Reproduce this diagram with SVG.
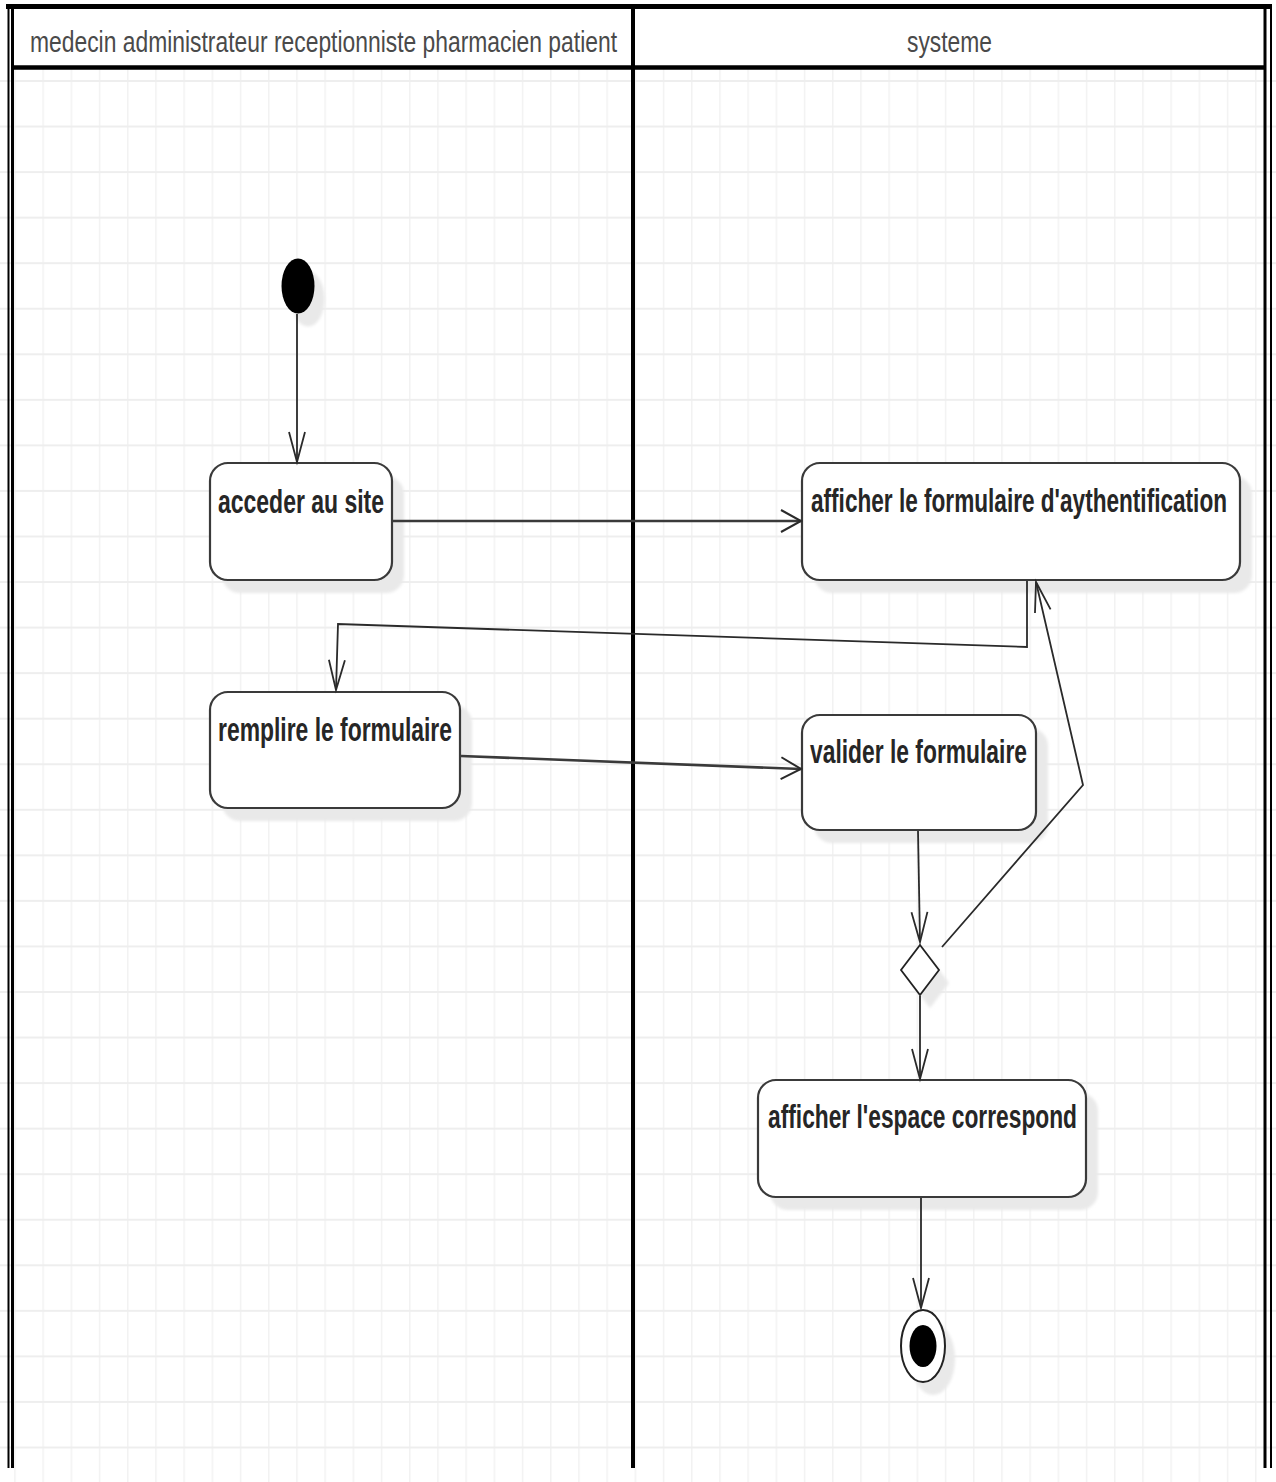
<svg xmlns="http://www.w3.org/2000/svg" width="1276" height="1482" viewBox="0 0 1276 1482">
<style>
.frame{stroke:#000;fill:none}
.box{fill:#fff;stroke:#3a3a3a;stroke-width:2.2}
.shadow{fill:#e9e9e9;filter:url(#blur)}
.lbl{font-family:"Liberation Sans",Arial,sans-serif;font-weight:bold;font-size:33px;fill:#262626}
.hdr{font-family:"Liberation Sans",Arial,sans-serif;font-size:29px;fill:#4a4a4a}
.conn{fill:none;stroke:#2a2a2a;stroke-width:1.8}
.connH{fill:none;stroke:#3a3a3a;stroke-width:2.6}
</style>
<defs>
<pattern id="grid" patternUnits="userSpaceOnUse" x="14.2" y="80" width="28.2" height="45.55">
<rect x="0" y="0" width="28.2" height="45.55" fill="#fff"/>
<line x1="0.75" y1="0" x2="0.75" y2="45.55" stroke="#f2f2f2" stroke-width="1.5"/>
<line x1="0" y1="1" x2="28.2" y2="1" stroke="#eeeeee" stroke-width="2"/>
</pattern>
<filter id="blur" x="-20%" y="-20%" width="140%" height="140%"><feGaussianBlur stdDeviation="1.5"/></filter>
<marker id="arrV" markerUnits="userSpaceOnUse" markerWidth="40" markerHeight="40" refX="0" refY="0" orient="auto" overflow="visible">
<path d="M-30,-8 L0,0 L-30,8" fill="none" stroke="#2a2a2a" stroke-width="1.8"/>
</marker>
<marker id="arrH" markerUnits="userSpaceOnUse" markerWidth="40" markerHeight="40" refX="0" refY="0" orient="auto" overflow="visible">
<path d="M-20,-11 L0,0 L-20,11" fill="none" stroke="#2a2a2a" stroke-width="2"/>
</marker>
</defs>
<rect x="0" y="0" width="1276" height="1482" fill="#fff"/>
<rect x="0" y="68" width="1276" height="1414" fill="url(#grid)"/>
<rect x="12" y="8" width="1253" height="59" fill="#fff"/>
<g id="swimlanes">
<line class="frame" x1="6" y1="6.5" x2="1272" y2="6.5" stroke-width="5"/>
<line class="frame" x1="12" y1="67.5" x2="1265" y2="67.5" stroke-width="4.5"/>
<line class="frame" x1="8.5" y1="4" x2="8.5" y2="1468" stroke-width="2"/>
<line class="frame" x1="12.5" y1="4" x2="12.5" y2="1468" stroke-width="3"/>
<line class="frame" x1="1265" y1="4" x2="1265" y2="1468" stroke-width="3"/>
<line class="frame" x1="1271" y1="4" x2="1271" y2="1468" stroke-width="2"/>
<line class="frame" x1="633" y1="4" x2="633" y2="1468" stroke-width="4"/>
<text class="hdr" x="30" y="52" textLength="587" lengthAdjust="spacingAndGlyphs">medecin administrateur receptionniste pharmacien patient</text>
<text class="hdr" x="907" y="52" textLength="85" lengthAdjust="spacingAndGlyphs">systeme</text>
</g>
<g id="start">
<ellipse class="shadow" cx="308" cy="299" rx="16.5" ry="27.5"/>
<ellipse cx="298" cy="286" rx="16.5" ry="27.5" fill="#000"/>
</g>
<g id="acceder">
<rect class="shadow" x="222" y="476" width="182" height="117" rx="18"/>
<rect class="box" x="210" y="463" width="182" height="117" rx="18"/>
<text class="lbl" x="218" y="513" textLength="166" lengthAdjust="spacingAndGlyphs">acceder au site</text>
</g>
<g id="afficher_form">
<rect class="shadow" x="814" y="476" width="438" height="117" rx="18"/>
<rect class="box" x="802" y="463" width="438" height="117" rx="18"/>
<text class="lbl" x="811" y="512" textLength="416" lengthAdjust="spacingAndGlyphs">afficher le formulaire d'aythentification</text>
</g>
<g id="remplire">
<rect class="shadow" x="222" y="705" width="250" height="116" rx="18"/>
<rect class="box" x="210" y="692" width="250" height="116" rx="18"/>
<text class="lbl" x="218" y="741" textLength="234" lengthAdjust="spacingAndGlyphs">remplire le formulaire</text>
</g>
<g id="valider">
<rect class="shadow" x="814" y="728" width="234" height="115" rx="18"/>
<rect class="box" x="802" y="715" width="234" height="115" rx="18"/>
<text class="lbl" x="810" y="763" textLength="217" lengthAdjust="spacingAndGlyphs">valider le formulaire</text>
</g>
<g id="decision">
<polygon class="shadow" points="930,958 949,983 930,1008 911,983"/>
<polygon points="920,945 939,970 920,995 901,970" fill="#fff" stroke="#222" stroke-width="1.8"/>
</g>
<g id="afficher_espace">
<rect class="shadow" x="770" y="1093" width="328" height="117" rx="18"/>
<rect class="box" x="758" y="1080" width="328" height="117" rx="18"/>
<text class="lbl" x="768" y="1128" textLength="309" lengthAdjust="spacingAndGlyphs">afficher l'espace correspond</text>
</g>
<g id="end">
<ellipse class="shadow" cx="933" cy="1359" rx="22" ry="36"/>
<ellipse cx="923" cy="1346" rx="22" ry="36" fill="#fff" stroke="#222" stroke-width="2"/>
<ellipse cx="923" cy="1346" rx="13.5" ry="21" fill="#000"/>
</g>
<g id="connectors">
<path class="conn" d="M297,314 L297,462" marker-end="url(#arrV)"/>
<path class="connH" d="M393,521 L801,521" marker-end="url(#arrH)"/>
<path class="conn" d="M1027,581 L1027,647 L338,624 L336,690" stroke-width="2.2" marker-end="url(#arrV)"/>
<path class="connH" d="M461,756 L801,769" marker-end="url(#arrH)"/>
<path class="conn" d="M918,831 L920,942" marker-end="url(#arrV)"/>
<path class="conn" d="M942,947 L1083,785 L1036,582" marker-end="url(#arrV)"/>
<path class="conn" d="M920,996 L920,1079" marker-end="url(#arrV)"/>
<path class="conn" d="M921,1198 L921,1308" marker-end="url(#arrV)"/>
</g>
</svg>
